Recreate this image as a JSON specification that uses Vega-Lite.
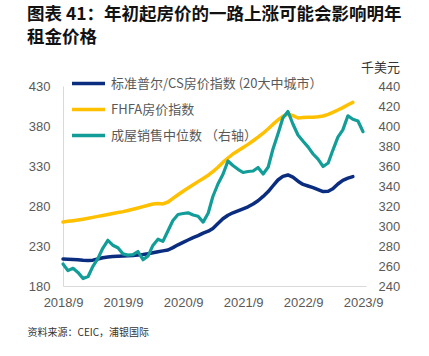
{
  "$schema": "https://vega.github.io/schema/vega-lite/v6.json",
  "width": 303,
  "height": 200,
  "autosize": "none",
  "padding": {"left": 63, "top": 86, "right": 63, "bottom": 70},
  "background": "white",
  "config": {
    "view": {"stroke": null},
    "font": "Noto Sans CJK SC"
  },
  "title": {
    "text": ["图表 41：年初起房价的一路上涨可能会影响明年", "租金价格"],
    "anchor": "start",
    "frame": "group",
    "font": "Noto Sans CJK SC",
    "fontSize": 17.5,
    "fontWeight": "bold",
    "color": "#111111",
    "lineHeight": 23,
    "dx": -36,
    "offset": 15
  },
  "datasets": {
    "prices": [
      {"date": "2018-09-01", "series": "标准普尔/CS房价指数 (20大中城市）", "value": 213.7},
      {"date": "2018-10-01", "series": "标准普尔/CS房价指数 (20大中城市）", "value": 213.5},
      {"date": "2018-11-01", "series": "标准普尔/CS房价指数 (20大中城市）", "value": 213.2},
      {"date": "2018-12-01", "series": "标准普尔/CS房价指数 (20大中城市）", "value": 212.8},
      {"date": "2019-01-01", "series": "标准普尔/CS房价指数 (20大中城市）", "value": 212.2},
      {"date": "2019-02-01", "series": "标准普尔/CS房价指数 (20大中城市）", "value": 211.8},
      {"date": "2019-03-01", "series": "标准普尔/CS房价指数 (20大中城市）", "value": 212.3},
      {"date": "2019-04-01", "series": "标准普尔/CS房价指数 (20大中城市）", "value": 213.8},
      {"date": "2019-05-01", "series": "标准普尔/CS房价指数 (20大中城市）", "value": 215.3},
      {"date": "2019-06-01", "series": "标准普尔/CS房价指数 (20大中城市）", "value": 216.3},
      {"date": "2019-07-01", "series": "标准普尔/CS房价指数 (20大中城市）", "value": 216.9},
      {"date": "2019-08-01", "series": "标准普尔/CS房价指数 (20大中城市）", "value": 217.2},
      {"date": "2019-09-01", "series": "标准普尔/CS房价指数 (20大中城市）", "value": 217.5},
      {"date": "2019-10-01", "series": "标准普尔/CS房价指数 (20大中城市）", "value": 217.8},
      {"date": "2019-11-01", "series": "标准普尔/CS房价指数 (20大中城市）", "value": 218.1},
      {"date": "2019-12-01", "series": "标准普尔/CS房价指数 (20大中城市）", "value": 218.6},
      {"date": "2020-01-01", "series": "标准普尔/CS房价指数 (20大中城市）", "value": 219.3},
      {"date": "2020-02-01", "series": "标准普尔/CS房价指数 (20大中城市）", "value": 220.2},
      {"date": "2020-03-01", "series": "标准普尔/CS房价指数 (20大中城市）", "value": 221.5},
      {"date": "2020-04-01", "series": "标准普尔/CS房价指数 (20大中城市）", "value": 222.9},
      {"date": "2020-05-01", "series": "标准普尔/CS房价指数 (20大中城市）", "value": 223.9},
      {"date": "2020-06-01", "series": "标准普尔/CS房价指数 (20大中城市）", "value": 225.0},
      {"date": "2020-07-01", "series": "标准普尔/CS房价指数 (20大中城市）", "value": 228.0},
      {"date": "2020-08-01", "series": "标准普尔/CS房价指数 (20大中城市）", "value": 231.5},
      {"date": "2020-09-01", "series": "标准普尔/CS房价指数 (20大中城市）", "value": 234.5},
      {"date": "2020-10-01", "series": "标准普尔/CS房价指数 (20大中城市）", "value": 237.5},
      {"date": "2020-11-01", "series": "标准普尔/CS房价指数 (20大中城市）", "value": 240.5},
      {"date": "2020-12-01", "series": "标准普尔/CS房价指数 (20大中城市）", "value": 243.0},
      {"date": "2021-01-01", "series": "标准普尔/CS房价指数 (20大中城市）", "value": 246.0},
      {"date": "2021-02-01", "series": "标准普尔/CS房价指数 (20大中城市）", "value": 248.5},
      {"date": "2021-03-01", "series": "标准普尔/CS房价指数 (20大中城市）", "value": 252.0},
      {"date": "2021-04-01", "series": "标准普尔/CS房价指数 (20大中城市）", "value": 258.0},
      {"date": "2021-05-01", "series": "标准普尔/CS房价指数 (20大中城市）", "value": 264.0},
      {"date": "2021-06-01", "series": "标准普尔/CS房价指数 (20大中城市）", "value": 268.5},
      {"date": "2021-07-01", "series": "标准普尔/CS房价指数 (20大中城市）", "value": 271.5},
      {"date": "2021-08-01", "series": "标准普尔/CS房价指数 (20大中城市）", "value": 274.0},
      {"date": "2021-09-01", "series": "标准普尔/CS房价指数 (20大中城市）", "value": 276.5},
      {"date": "2021-10-01", "series": "标准普尔/CS房价指数 (20大中城市）", "value": 279.0},
      {"date": "2021-11-01", "series": "标准普尔/CS房价指数 (20大中城市）", "value": 282.5},
      {"date": "2021-12-01", "series": "标准普尔/CS房价指数 (20大中城市）", "value": 286.5},
      {"date": "2022-01-01", "series": "标准普尔/CS房价指数 (20大中城市）", "value": 292.0},
      {"date": "2022-02-01", "series": "标准普尔/CS房价指数 (20大中城市）", "value": 298.0},
      {"date": "2022-03-01", "series": "标准普尔/CS房价指数 (20大中城市）", "value": 305.0},
      {"date": "2022-04-01", "series": "标准普尔/CS房价指数 (20大中城市）", "value": 312.5},
      {"date": "2022-05-01", "series": "标准普尔/CS房价指数 (20大中城市）", "value": 317.0},
      {"date": "2022-06-01", "series": "标准普尔/CS房价指数 (20大中城市）", "value": 318.8},
      {"date": "2022-07-01", "series": "标准普尔/CS房价指数 (20大中城市）", "value": 316.0},
      {"date": "2022-08-01", "series": "标准普尔/CS房价指数 (20大中城市）", "value": 311.0},
      {"date": "2022-09-01", "series": "标准普尔/CS房价指数 (20大中城市）", "value": 307.0},
      {"date": "2022-10-01", "series": "标准普尔/CS房价指数 (20大中城市）", "value": 305.0},
      {"date": "2022-11-01", "series": "标准普尔/CS房价指数 (20大中城市）", "value": 303.0},
      {"date": "2022-12-01", "series": "标准普尔/CS房价指数 (20大中城市）", "value": 300.5},
      {"date": "2023-01-01", "series": "标准普尔/CS房价指数 (20大中城市）", "value": 298.0},
      {"date": "2023-02-01", "series": "标准普尔/CS房价指数 (20大中城市）", "value": 298.5},
      {"date": "2023-03-01", "series": "标准普尔/CS房价指数 (20大中城市）", "value": 301.5},
      {"date": "2023-04-01", "series": "标准普尔/CS房价指数 (20大中城市）", "value": 307.5},
      {"date": "2023-05-01", "series": "标准普尔/CS房价指数 (20大中城市）", "value": 312.0},
      {"date": "2023-06-01", "series": "标准普尔/CS房价指数 (20大中城市）", "value": 314.8},
      {"date": "2023-07-01", "series": "标准普尔/CS房价指数 (20大中城市）", "value": 316.7},
      {"date": "2018-09-01", "series": "FHFA房价指数", "value": 260.0},
      {"date": "2018-10-01", "series": "FHFA房价指数", "value": 260.8},
      {"date": "2018-11-01", "series": "FHFA房价指数", "value": 261.6},
      {"date": "2018-12-01", "series": "FHFA房价指数", "value": 262.5},
      {"date": "2019-01-01", "series": "FHFA房价指数", "value": 263.5},
      {"date": "2019-02-01", "series": "FHFA房价指数", "value": 264.6},
      {"date": "2019-03-01", "series": "FHFA房价指数", "value": 265.8},
      {"date": "2019-04-01", "series": "FHFA房价指数", "value": 267.0},
      {"date": "2019-05-01", "series": "FHFA房价指数", "value": 268.2},
      {"date": "2019-06-01", "series": "FHFA房价指数", "value": 269.4},
      {"date": "2019-07-01", "series": "FHFA房价指数", "value": 270.6},
      {"date": "2019-08-01", "series": "FHFA房价指数", "value": 271.8},
      {"date": "2019-09-01", "series": "FHFA房价指数", "value": 273.0},
      {"date": "2019-10-01", "series": "FHFA房价指数", "value": 274.4},
      {"date": "2019-11-01", "series": "FHFA房价指数", "value": 275.9},
      {"date": "2019-12-01", "series": "FHFA房价指数", "value": 277.5},
      {"date": "2020-01-01", "series": "FHFA房价指数", "value": 279.3},
      {"date": "2020-02-01", "series": "FHFA房价指数", "value": 281.0},
      {"date": "2020-03-01", "series": "FHFA房价指数", "value": 282.5},
      {"date": "2020-04-01", "series": "FHFA房价指数", "value": 283.0},
      {"date": "2020-05-01", "series": "FHFA房价指数", "value": 282.6},
      {"date": "2020-06-01", "series": "FHFA房价指数", "value": 285.0},
      {"date": "2020-07-01", "series": "FHFA房价指数", "value": 289.5},
      {"date": "2020-08-01", "series": "FHFA房价指数", "value": 294.0},
      {"date": "2020-09-01", "series": "FHFA房价指数", "value": 298.5},
      {"date": "2020-10-01", "series": "FHFA房价指数", "value": 302.5},
      {"date": "2020-11-01", "series": "FHFA房价指数", "value": 306.5},
      {"date": "2020-12-01", "series": "FHFA房价指数", "value": 310.5},
      {"date": "2021-01-01", "series": "FHFA房价指数", "value": 314.5},
      {"date": "2021-02-01", "series": "FHFA房价指数", "value": 318.5},
      {"date": "2021-03-01", "series": "FHFA房价指数", "value": 323.0},
      {"date": "2021-04-01", "series": "FHFA房价指数", "value": 328.5},
      {"date": "2021-05-01", "series": "FHFA房价指数", "value": 334.5},
      {"date": "2021-06-01", "series": "FHFA房价指数", "value": 340.0},
      {"date": "2021-07-01", "series": "FHFA房价指数", "value": 345.0},
      {"date": "2021-08-01", "series": "FHFA房价指数", "value": 349.0},
      {"date": "2021-09-01", "series": "FHFA房价指数", "value": 353.0},
      {"date": "2021-10-01", "series": "FHFA房价指数", "value": 357.0},
      {"date": "2021-11-01", "series": "FHFA房价指数", "value": 361.5},
      {"date": "2021-12-01", "series": "FHFA房价指数", "value": 366.0},
      {"date": "2022-01-01", "series": "FHFA房价指数", "value": 371.0},
      {"date": "2022-02-01", "series": "FHFA房价指数", "value": 376.5},
      {"date": "2022-03-01", "series": "FHFA房价指数", "value": 382.0},
      {"date": "2022-04-01", "series": "FHFA房价指数", "value": 387.5},
      {"date": "2022-05-01", "series": "FHFA房价指数", "value": 392.0},
      {"date": "2022-06-01", "series": "FHFA房价指数", "value": 395.0},
      {"date": "2022-07-01", "series": "FHFA房价指数", "value": 393.0},
      {"date": "2022-08-01", "series": "FHFA房价指数", "value": 390.0},
      {"date": "2022-09-01", "series": "FHFA房价指数", "value": 390.5},
      {"date": "2022-10-01", "series": "FHFA房价指数", "value": 391.0},
      {"date": "2022-11-01", "series": "FHFA房价指数", "value": 391.0},
      {"date": "2022-12-01", "series": "FHFA房价指数", "value": 391.5},
      {"date": "2023-01-01", "series": "FHFA房价指数", "value": 392.5},
      {"date": "2023-02-01", "series": "FHFA房价指数", "value": 394.5},
      {"date": "2023-03-01", "series": "FHFA房价指数", "value": 397.0},
      {"date": "2023-04-01", "series": "FHFA房价指数", "value": 400.0},
      {"date": "2023-05-01", "series": "FHFA房价指数", "value": 403.0},
      {"date": "2023-06-01", "series": "FHFA房价指数", "value": 406.5},
      {"date": "2023-07-01", "series": "FHFA房价指数", "value": 409.5},
      {"date": "2018-09-01", "series": "成屋销售中位数 （右轴）", "value": 262.0},
      {"date": "2018-10-01", "series": "成屋销售中位数 （右轴）", "value": 255.4},
      {"date": "2018-11-01", "series": "成屋销售中位数 （右轴）", "value": 257.7},
      {"date": "2018-12-01", "series": "成屋销售中位数 （右轴）", "value": 253.6},
      {"date": "2019-01-01", "series": "成屋销售中位数 （右轴）", "value": 247.5},
      {"date": "2019-02-01", "series": "成屋销售中位数 （右轴）", "value": 249.5},
      {"date": "2019-03-01", "series": "成屋销售中位数 （右轴）", "value": 259.4},
      {"date": "2019-04-01", "series": "成屋销售中位数 （右轴）", "value": 267.3},
      {"date": "2019-05-01", "series": "成屋销售中位数 （右轴）", "value": 277.7},
      {"date": "2019-06-01", "series": "成屋销售中位数 （右轴）", "value": 285.7},
      {"date": "2019-07-01", "series": "成屋销售中位数 （右轴）", "value": 280.8},
      {"date": "2019-08-01", "series": "成屋销售中位数 （右轴）", "value": 278.2},
      {"date": "2019-09-01", "series": "成屋销售中位数 （右轴）", "value": 272.1},
      {"date": "2019-10-01", "series": "成屋销售中位数 （右轴）", "value": 270.9},
      {"date": "2019-11-01", "series": "成屋销售中位数 （右轴）", "value": 271.3},
      {"date": "2019-12-01", "series": "成屋销售中位数 （右轴）", "value": 274.5},
      {"date": "2020-01-01", "series": "成屋销售中位数 （右轴）", "value": 266.3},
      {"date": "2020-02-01", "series": "成屋销售中位数 （右轴）", "value": 270.1},
      {"date": "2020-03-01", "series": "成屋销售中位数 （右轴）", "value": 280.6},
      {"date": "2020-04-01", "series": "成屋销售中位数 （右轴）", "value": 286.8},
      {"date": "2020-05-01", "series": "成屋销售中位数 （右轴）", "value": 284.6},
      {"date": "2020-06-01", "series": "成屋销售中位数 （右轴）", "value": 295.3},
      {"date": "2020-07-01", "series": "成屋销售中位数 （右轴）", "value": 305.5},
      {"date": "2020-08-01", "series": "成屋销售中位数 （右轴）", "value": 311.5},
      {"date": "2020-09-01", "series": "成屋销售中位数 （右轴）", "value": 312.5},
      {"date": "2020-10-01", "series": "成屋销售中位数 （右轴）", "value": 313.2},
      {"date": "2020-11-01", "series": "成屋销售中位数 （右轴）", "value": 311.0},
      {"date": "2020-12-01", "series": "成屋销售中位数 （右轴）", "value": 309.8},
      {"date": "2021-01-01", "series": "成屋销售中位数 （右轴）", "value": 303.9},
      {"date": "2021-02-01", "series": "成屋销售中位数 （右轴）", "value": 313.0},
      {"date": "2021-03-01", "series": "成屋销售中位数 （右轴）", "value": 329.5},
      {"date": "2021-04-01", "series": "成屋销售中位数 （右轴）", "value": 342.0},
      {"date": "2021-05-01", "series": "成屋销售中位数 （右轴）", "value": 351.5},
      {"date": "2021-06-01", "series": "成屋销售中位数 （右轴）", "value": 365.0},
      {"date": "2021-07-01", "series": "成屋销售中位数 （右轴）", "value": 360.5},
      {"date": "2021-08-01", "series": "成屋销售中位数 （右轴）", "value": 356.7},
      {"date": "2021-09-01", "series": "成屋销售中位数 （右轴）", "value": 353.5},
      {"date": "2021-10-01", "series": "成屋销售中位数 （右轴）", "value": 354.5},
      {"date": "2021-11-01", "series": "成屋销售中位数 （右轴）", "value": 355.0},
      {"date": "2021-12-01", "series": "成屋销售中位数 （右轴）", "value": 358.5},
      {"date": "2022-01-01", "series": "成屋销售中位数 （右轴）", "value": 352.0},
      {"date": "2022-02-01", "series": "成屋销售中位数 （右轴）", "value": 359.0},
      {"date": "2022-03-01", "series": "成屋销售中位数 （右轴）", "value": 376.5},
      {"date": "2022-04-01", "series": "成屋销售中位数 （右轴）", "value": 392.0},
      {"date": "2022-05-01", "series": "成屋销售中位数 （右轴）", "value": 408.0},
      {"date": "2022-06-01", "series": "成屋销售中位数 （右轴）", "value": 414.5},
      {"date": "2022-07-01", "series": "成屋销售中位数 （右轴）", "value": 402.0},
      {"date": "2022-08-01", "series": "成屋销售中位数 （右轴）", "value": 391.0},
      {"date": "2022-09-01", "series": "成屋销售中位数 （右轴）", "value": 384.8},
      {"date": "2022-10-01", "series": "成屋销售中位数 （右轴）", "value": 379.1},
      {"date": "2022-11-01", "series": "成屋销售中位数 （右轴）", "value": 372.0},
      {"date": "2022-12-01", "series": "成屋销售中位数 （右轴）", "value": 366.9},
      {"date": "2023-01-01", "series": "成屋销售中位数 （右轴）", "value": 359.5},
      {"date": "2023-02-01", "series": "成屋销售中位数 （右轴）", "value": 363.0},
      {"date": "2023-03-01", "series": "成屋销售中位数 （右轴）", "value": 375.7},
      {"date": "2023-04-01", "series": "成屋销售中位数 （右轴）", "value": 388.8},
      {"date": "2023-05-01", "series": "成屋销售中位数 （右轴）", "value": 396.1},
      {"date": "2023-06-01", "series": "成屋销售中位数 （右轴）", "value": 410.2},
      {"date": "2023-07-01", "series": "成屋销售中位数 （右轴）", "value": 406.7},
      {"date": "2023-08-01", "series": "成屋销售中位数 （右轴）", "value": 405.0},
      {"date": "2023-09-01", "series": "成屋销售中位数 （右轴）", "value": 394.3}
    ]
  },
  "data": {"name": "prices"},
  "encoding": {
    "x": {
      "field": "date",
      "type": "temporal",
      "scale": {
        "type": "utc",
        "domain": [
          {"year": 2018, "month": 9, "date": 1, "utc": true},
          {"year": 2023, "month": 9, "date": 19, "utc": true}
        ]
      },
      "axis": {
        "values": [
          {"year": 2018, "month": 9, "date": 1, "utc": true},
          {"year": 2019, "month": 9, "date": 1, "utc": true},
          {"year": 2020, "month": 9, "date": 1, "utc": true},
          {"year": 2021, "month": 9, "date": 1, "utc": true},
          {"year": 2022, "month": 9, "date": 1, "utc": true},
          {"year": 2023, "month": 9, "date": 1, "utc": true}
        ],
        "labelExpr": "utcFormat(datum.value, '%Y/%-m')",
        "labelFont": "Liberation Sans",
        "labelFontSize": 13,
        "labelColor": "#595959",
        "labelPadding": 10,
        "ticks": false,
        "grid": false,
        "domain": true,
        "domainColor": "#d9d9d9",
        "domainWidth": 1,
        "labelFlush": false,
        "labelOverlap": false,
        "title": "资料来源：CEIC，浦银国际",
        "titleFont": "Noto Sans CJK SC",
        "titleFontSize": 10,
        "titleFontWeight": "normal",
        "titleColor": "#333333",
        "titleAnchor": "start",
        "titleAlign": "left",
        "titleBaseline": "middle",
        "titleX": -36,
        "titleY": 46
      }
    },
    "color": {
      "field": "series",
      "type": "nominal",
      "scale": {
        "domain": ["标准普尔/CS房价指数 (20大中城市）", "FHFA房价指数", "成屋销售中位数 （右轴）"],
        "range": ["#0B2D80", "#FFC000", "#129D98"]
      },
      "legend": {
        "title": null,
        "orient": "none",
        "legendX": 7,
        "legendY": -21,
        "padding": 0,
        "symbolType": "stroke",
        "symbolSize": 1089,
        "symbolStrokeWidth": 3.5,
        "labelFont": "Noto Sans CJK SC",
        "labelFontSize": 13,
        "labelColor": "#595959",
        "labelOffset": 4,
        "labelLimit": 400,
        "rowPadding": -7
      }
    }
  },
  "layer": [
    {
      "transform": [{"filter": "datum.series !== '成屋销售中位数 （右轴）'"}],
      "mark": {"type": "line", "strokeWidth": 3.5, "strokeCap": "round", "strokeJoin": "round"},
      "encoding": {
        "y": {
          "field": "value",
          "type": "quantitative",
          "scale": {"domain": [180, 430], "nice": false, "zero": false},
          "axis": {
            "orient": "left",
            "values": [180, 230, 280, 330, 380, 430],
            "labelFont": "Liberation Sans",
            "labelFontSize": 13,
            "labelColor": "#595959",
            "labelPadding": 13,
            "ticks": false,
            "grid": false,
            "domain": true,
            "domainColor": "#d9d9d9",
            "title": null
          }
        }
      }
    },
    {
      "transform": [{"filter": "datum.series === '成屋销售中位数 （右轴）'"}],
      "mark": {"type": "line", "strokeWidth": 3.2, "strokeCap": "round", "strokeJoin": "round"},
      "encoding": {
        "y": {
          "field": "value",
          "type": "quantitative",
          "scale": {"domain": [240, 440], "nice": false, "zero": false},
          "axis": {
            "orient": "right",
            "values": [240, 260, 280, 300, 320, 340, 360, 380, 400, 420, 440],
            "labelFont": "Liberation Sans",
            "labelFontSize": 13,
            "labelColor": "#595959",
            "labelPadding": 12,
            "ticks": false,
            "grid": false,
            "domain": false,
            "title": "千美元",
            "titleAngle": 0,
            "titleFont": "Noto Sans CJK SC",
            "titleFontSize": 13,
            "titleFontWeight": "normal",
            "titleColor": "#333333",
            "titleAlign": "center",
            "titleBaseline": "middle",
            "titleX": 14,
            "titleY": -19
          }
        }
      }
    }
  ],
  "resolve": {"scale": {"y": "independent"}}
}
